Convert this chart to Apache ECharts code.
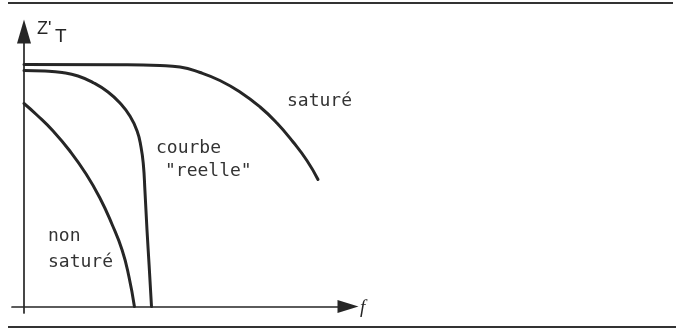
<!DOCTYPE html>
<html>
<head>
<meta charset="utf-8">
<script src="https://cdn.jsdelivr.net/npm/echarts@6/dist/echarts.min.js"></script>
<style>
  html, body { margin: 0; padding: 0; background: #ffffff; }
  #chart { width: 682px; height: 332px; }
</style>
</head>
<body>
<div id="chart"></div>
<script>
// Z'T against frequency f: three response curves
const satureX = [0, 32, 45.3, 52, 58.7, 65.3, 72, 78.7, 84.3, 89.7, 94.3, 98];
const satureY = [96.8, 96.7, 96.4, 95.8, 93.6, 90.4, 85.8, 79.8, 73.4, 65.8, 58.4, 50.8];

const reelleX = [0, 7, 12.7, 18, 23.3, 28, 32, 35.3, 37.7, 39, 39.8, 40.3, 41, 41.7, 42.5];
const reelleY = [94.4, 94.2, 93.6, 92.2, 89.4, 85.8, 81.4, 76.2, 70.2, 63.8, 56.6, 46.6, 30.6, 16.6, 0];

const nonSatX = [0, 4.3, 9.7, 15.3, 20.7, 25.3, 29.3, 32.7, 35, 36.8];
const nonSatY = [81.2, 76.6, 70.2, 62.2, 53, 43.4, 33, 22.6, 11.8, 0];

const pairs = (xs, ys) => xs.map((x, i) => [x, ys[i]]);

const ink = '#262626';
const monoFont = '18px "DejaVu Sans Mono", monospace';

const chart = echarts.init(document.getElementById('chart'), null, { renderer: 'canvas' });

function curve(name, xs, ys) {
  return {
    name: name,
    type: 'line',
    data: pairs(xs, ys),
    showSymbol: false,
    smooth: 0.5,
    lineStyle: { color: ink, width: 3, cap: 'round', join: 'round' },
    silent: true,
    animation: false
  };
}

function label(text, x, y) {
  return {
    type: 'text',
    style: { text: text, x: x, y: y, font: monoFont, fill: '#333', textVerticalAlign: 'middle' },
    silent: true
  };
}

chart.setOption({
  backgroundColor: '#ffffff',
  animation: false,
  grid: { left: 12, right: 334, top: 31.5, bottom: 19 },
  xAxis: {
    type: 'value', min: -4, max: 108,
    axisLine: { onZero: true, symbol: ['none', 'triangle'], symbolSize: [13, 21],
                lineStyle: { color: ink, width: 1.7 } },
    axisTick: { show: false }, axisLabel: { show: false }, splitLine: { show: false }
  },
  yAxis: {
    type: 'value', min: -2.6, max: 110,
    axisLine: { onZero: true, symbol: ['none', 'triangle'], symbolSize: [14, 24],
                lineStyle: { color: ink, width: 1.7 } },
    axisTick: { show: false }, axisLabel: { show: false }, splitLine: { show: false }
  },
  series: [
    curve('saturé', satureX, satureY),
    curve('courbe réelle', reelleX, reelleY),
    curve('non saturé', nonSatX, nonSatY)
  ],
  graphic: [
    { type: 'line', shape: { x1: 8, y1: 3, x2: 673, y2: 3 }, style: { stroke: '#333', lineWidth: 2 }, silent: true },
    { type: 'line', shape: { x1: 8, y1: 327, x2: 676, y2: 327 }, style: { stroke: '#333', lineWidth: 2 }, silent: true },
    { type: 'text', style: { text: "Z'", x: 37, y: 29, font: '18px "Liberation Sans", sans-serif', fill: ink, textVerticalAlign: 'middle' }, silent: true },
    { type: 'text', style: { text: 'T', x: 55, y: 37, font: '19px "Liberation Sans", sans-serif', fill: ink, textVerticalAlign: 'middle' }, silent: true },
    { type: 'text', style: { text: 'f', x: 360, y: 308, font: 'italic 19px "Liberation Serif", serif', fill: ink, textVerticalAlign: 'middle' }, silent: true },
    label('saturé', 287, 101),
    label('courbe', 156, 148),
    label('"reelle"', 165, 171),
    label('non', 48, 236.5),
    label('saturé', 48, 262)
  ]
});
</script>
</body>
</html>
